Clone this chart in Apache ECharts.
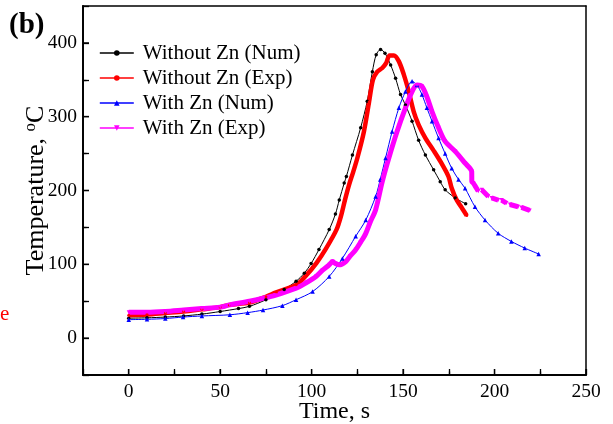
<!DOCTYPE html>
<html>
<head>
<meta charset="utf-8">
<script src="https://cdn.jsdelivr.net/npm/echarts@6/dist/echarts.min.js"></script>
<style>html,body{margin:0;padding:0;background:#fff;}#c{width:613px;height:424px;}</style>
</head>
<body>
<div id="c"></div>
<script>
// ---- data ----
const seriesNames = ['Without Zn (Num)', 'Without Zn (Exp)', 'With Zn (Num)', 'With Zn (Exp)'];

const numNoZnTime = [0, 10, 20, 30, 40, 50, 60, 66, 75, 85, 91.5, 96, 99.7, 104, 109.6, 113, 115.1, 117.8, 119, 122.3, 126.8, 130.4, 133.2, 135.3, 137.7, 140.1, 143.2, 145.9, 148.6, 151.3, 154.9, 158.5, 162.2, 166.7, 170.3, 173, 178.5, 184.2];
const numNoZnTemp = [27, 27.5, 28.5, 30, 32.5, 36, 40, 43, 52, 66, 77, 88, 101, 120, 147, 168, 187, 210, 219, 248, 285, 321, 361, 384, 391, 386, 370, 352, 330, 316, 294, 268, 248, 228, 212, 201, 190, 182];

const expNoZnTime = [0, 10, 20, 30, 40, 50, 55, 66, 75, 80.6, 91.5, 97, 102.7, 108, 113.6, 116, 118.2, 120.5, 122.7, 125, 128.6, 131.4, 133.5, 135.9, 138.6, 140.8, 142.6, 145, 147.7, 150.4, 153.1, 155.8, 158.5, 162.2, 166.7, 171.2, 174.8, 176.6, 179.3, 182, 184.8];
const expNoZnTemp = [31, 32, 34, 36, 39, 42, 45, 48, 56, 62, 72, 85, 102, 122, 147, 165, 187, 208, 225, 244, 280, 320, 350, 361, 366, 373, 383, 383, 375, 357, 334, 307, 289, 271, 254, 236, 219, 203, 187, 177, 166];

const numZnTime = [0, 10, 20, 29.7, 40, 55.3, 65, 73.4, 84, 91.5, 100.5, 109.6, 116.8, 124.1, 129.6, 135, 137.5, 140.4, 144, 147.7, 151.3, 154.9, 157.6, 160.3, 163, 165.8, 169.4, 173, 176.6, 180.3, 183.9, 189.3, 194.8, 202, 209.2, 216.5, 224.1];
const numZnTemp = [25, 25.5, 26.5, 28.5, 30, 31.6, 34.5, 38, 44, 52, 63, 83.5, 108, 138, 160, 192, 215, 244, 280, 312, 334, 348, 343, 330, 312, 294, 271, 250, 230, 215, 203, 178, 160, 142, 131, 122, 114];

const expZnTime = [0, 10, 20, 30, 40, 50, 55.3, 66, 73.4, 80, 91.5, 97, 102.4, 106, 109.6, 111.4, 113, 115.1, 118.7, 121, 124.1, 126.8, 129.6, 132, 135, 138.6, 142.2, 146.7, 151.3, 154.9, 157.6, 160.3, 163, 165.8, 169.4, 173, 178.5, 183.9, 187.5, 187.6, 188.4, 191.1, null, 193, 196.6, null, 198.4, 202, null, 203.8, 206.5, null, 208.4, 212.9, null, 214.7, 219.2];
const expZnTemp = [35, 35, 36, 38, 40, 42, 45, 50, 54, 58, 67.7, 75, 83.5, 92, 99.3, 103.8, 101, 99.3, 103.8, 111, 119.6, 130, 142, 157, 174, 212, 244, 280, 312, 334, 343, 341, 327, 307, 285, 266.5, 253, 237, 225.7, 212, 210, 199, null, 201, 192, null, 190, 187, null, 187, 183, null, 181, 178, null, 177, 173];

const xTickLabels = [0, 50, 100, 150, 200, 250];
const xMinorTicks = [25, 75, 125, 175, 225];
const yTickLabels = [0, 100, 200, 300, 400];
const yMinorTicks = [50, 150, 250, 350];

// ---- build ----
function zip(xs, ys) {
  return xs.map((x, i) => (x === null || ys[i] === null) ? [null, null] : [x, ys[i]]);
}
const FONT = 'Liberation Serif';
const X_MIN = -25, X_MAX = 250, Y_MIN = -50, Y_MAX = 450;
const chart = echarts.init(document.getElementById('c'), null, {renderer: 'canvas'});

const AXLINE = {show: true, onZero: false, lineStyle: {color: '#000', width: 1.5}};
const baseX = {type: 'value', min: X_MIN, max: X_MAX, gridIndex: 0, splitLine: {show: false}, position: 'bottom'};
const baseY = {type: 'value', min: Y_MIN, max: Y_MAX, gridIndex: 0, splitLine: {show: false}, position: 'left'};
function tickAxis(base, values, len) {
  return Object.assign({}, base, {
    axisLine: AXLINE,
    axisTick: {show: true, inside: true, length: len, lineStyle: {color: '#000', width: 1.3}, customValues: values},
    axisLabel: {show: false}
  });
}
function intervalTickAxis(base, step, len) {
  return Object.assign({}, base, {
    interval: step,
    axisLine: AXLINE,
    axisTick: {show: true, inside: true, length: len, lineStyle: {color: '#000', width: 1.3}},
    axisLabel: {show: false}
  });
}
function borderAxis(base, pos) {
  return Object.assign({}, base, {
    position: pos,
    axisLine: AXLINE,
    axisTick: {show: false},
    axisLabel: {show: false}
  });
}
// major ticks drawn through the axis scales (inward marks on bottom and left axes)
function majorTickSeries(values, isX) {
  return {
    type: 'custom', coordinateSystem: 'cartesian2d', xAxisIndex: 0, yAxisIndex: 0,
    silent: true, clip: false, z: 5,
    data: values.map(v => isX ? [v, Y_MIN] : [X_MIN, v]),
    renderItem: function (params, api) {
      const p = api.coord([api.value(0), api.value(1)]);
      if (isX) {
        return {type: 'line', shape: {x1: p[0], y1: p[1], x2: p[0], y2: p[1] - 6}, style: {stroke: '#000', lineWidth: 1.3}};
      }
      return {type: 'line', shape: {x1: p[0], y1: p[1], x2: p[0] + 6, y2: p[1]}, style: {stroke: '#000', lineWidth: 1.3}};
    }
  };
}

chart.setOption({
  animation: false,
  backgroundColor: '#fff',
  grid: {left: 83, right: 27, top: 6, bottom: 49, show: false, outerBoundsMode: 'none', containLabel: false},
  xAxis: [
    Object.assign({}, baseX, {
      name: 'Time, s', nameLocation: 'middle', nameGap: 25, nameMoveOverlap: false,
      nameTextStyle: {fontFamily: FONT, fontSize: 24, color: '#000'},
      axisLine: AXLINE,
      axisTick: {show: false},
      axisLabel: {show: true, fontFamily: FONT, fontSize: 19.5, color: '#000', margin: 7, customValues: xTickLabels.slice()}
    }),
    intervalTickAxis(baseX, 25, 6),
    tickAxis(baseX, xMinorTicks.slice(), 3.5),
    borderAxis(baseX, 'top')
  ],
  yAxis: [
    Object.assign({}, baseY, {
      name: 'Temperature, {sup|o}C', nameLocation: 'middle', nameGap: 32, nameRotate: 90, nameMoveOverlap: false,
      nameTextStyle: {fontFamily: FONT, fontSize: 26, color: '#000',
        rich: {sup: {fontFamily: FONT, fontSize: 17, color: '#000', verticalAlign: 'top', padding: [0, 0, 12, 0]}}},
      axisLine: AXLINE,
      axisTick: {show: false},
      axisLabel: {show: true, fontFamily: FONT, fontSize: 19.5, color: '#000', margin: 6, customValues: yTickLabels.slice()}
    }),
    intervalTickAxis(baseY, 50, 6),
    tickAxis(baseY, yMinorTicks.slice(), 3.5),
    borderAxis(baseY, 'right')
  ],
  legend: {
    orient: 'vertical', left: 94, top: 37,
    itemWidth: 34, itemHeight: 7, itemGap: 3,
    textStyle: {fontFamily: FONT, fontSize: 21, color: '#000', lineHeight: 22, padding: [0, 0, 0, 4]},
    lineStyle: {width: 1.6},
    data: seriesNames
  },
  graphic: [
    {type: 'text', left: 9, top: 11, style: {text: '(b)', fontFamily: FONT, fontWeight: 'bold', fontSize: 29, fill: '#000'}},
    {type: 'text', left: 0, top: 304, style: {text: 'e', fontFamily: FONT, fontSize: 21, fill: '#ff0000'}}
  ],
  series: [
    {name: seriesNames[0], type: 'line', xAxisIndex: 0, yAxisIndex: 0, data: zip(numNoZnTime, numNoZnTemp),
     color: '#000000', lineStyle: {width: 1, color: '#000'}, symbol: 'circle', symbolSize: 3.5, showSymbol: true,
     itemStyle: {color: '#000'}, smooth: 0.3},
    {name: seriesNames[1], type: 'line', xAxisIndex: 0, yAxisIndex: 0, data: zip(expNoZnTime, expNoZnTemp),
     color: '#ff0000', lineStyle: {width: 4.5, color: '#ff0000'}, symbol: 'circle', symbolSize: 3, showSymbol: true,
     itemStyle: {color: '#ff0000'}, smooth: 0.3},
    {name: seriesNames[2], type: 'line', xAxisIndex: 0, yAxisIndex: 0, data: zip(numZnTime, numZnTemp),
     color: '#0000ff', lineStyle: {width: 1, color: '#0000ff'}, symbol: 'triangle', symbolSize: 4.5, showSymbol: true,
     itemStyle: {color: '#0000ff'}, smooth: 0.3},
    {name: seriesNames[3], type: 'line', xAxisIndex: 0, yAxisIndex: 0, data: zip(expZnTime, expZnTemp),
     color: '#ff00ff', lineStyle: {width: 5, color: '#ff00ff'}, symbol: 'triangle', symbolRotate: 180, symbolSize: 4, showSymbol: true,
     itemStyle: {color: '#ff00ff'}, smooth: 0.3, connectNulls: false},
    majorTickSeries(xTickLabels, true),
    majorTickSeries(yTickLabels, false)
  ]
});
</script>
</body>
</html>
